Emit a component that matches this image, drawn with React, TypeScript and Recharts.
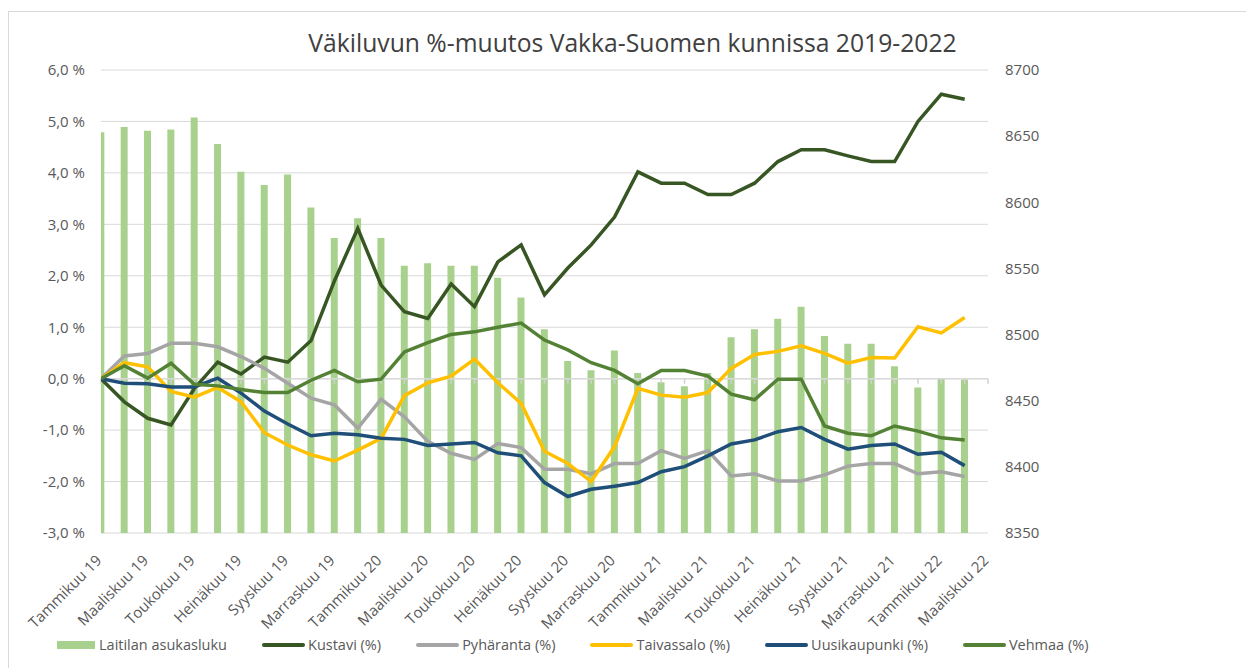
import React from 'react';
import { ComposedChart, Bar, Line, XAxis, YAxis, CartesianGrid, ReferenceLine } from 'recharts';

const months = [
  'Tammikuu 19', 'Helmikuu 19', 'Maaliskuu 19', 'Huhtikuu 19', 'Toukokuu 19', 'Kesäkuu 19',
  'Heinäkuu 19', 'Elokuu 19', 'Syyskuu 19', 'Lokakuu 19', 'Marraskuu 19', 'Joulukuu 19',
  'Tammikuu 20', 'Helmikuu 20', 'Maaliskuu 20', 'Huhtikuu 20', 'Toukokuu 20', 'Kesäkuu 20',
  'Heinäkuu 20', 'Elokuu 20', 'Syyskuu 20', 'Lokakuu 20', 'Marraskuu 20', 'Joulukuu 20',
  'Tammikuu 21', 'Helmikuu 21', 'Maaliskuu 21', 'Huhtikuu 21', 'Toukokuu 21', 'Kesäkuu 21',
  'Heinäkuu 21', 'Elokuu 21', 'Syyskuu 21', 'Lokakuu 21', 'Marraskuu 21', 'Joulukuu 21',
  'Tammikuu 22', 'Helmikuu 22', 'Maaliskuu 22',
];

const xTicks = [0, 2, 4, 6, 8, 10, 12, 14, 16, 18, 20, 22, 24, 26, 28, 30, 32, 34, 36, 38];
const leftTicks = [-3, -2, -1, 0, 1, 2, 3, 4, 5, 6];
const rightTicks = [8350, 8400, 8450, 8500, 8550, 8600, 8650, 8700];

const laitila = [
  8653, 8657, 8654, 8655, 8664, 8644, 8623, 8613, 8621, 8596, 8573, 8588,
  8573, 8552, 8554, 8552, 8552, 8543, 8528, 8504, 8480, 8473, 8488, 8471,
  8464, 8461, 8471, 8498, 8504, 8512, 8521, 8499, 8493, 8493, 8476, 8460,
  8467, 8466,
];
const kustavi = [
  0, -0.45, -0.77, -0.9, -0.19, 0.32, 0.09, 0.42, 0.32, 0.74, 1.9, 2.92,
  1.82, 1.3, 1.17, 1.84, 1.4, 2.27, 2.6, 1.63, 2.15, 2.6, 3.14, 4.02,
  3.8, 3.8, 3.58, 3.58, 3.8, 4.22, 4.45, 4.45, 4.33, 4.22, 4.22, 5.0,
  5.53, 5.43,
];
const pyharanta = [
  0, 0.44, 0.49, 0.69, 0.69, 0.62, 0.43, 0.2, -0.09, -0.38, -0.51, -0.96,
  -0.4, -0.74, -1.22, -1.45, -1.57, -1.26, -1.34, -1.76, -1.76, -1.85, -1.65, -1.65,
  -1.4, -1.55, -1.4, -1.89, -1.85, -1.99, -1.99, -1.87, -1.7, -1.65, -1.65, -1.85,
  -1.81, -1.9,
];
const taivassalo = [
  0, 0.31, 0.23, -0.25, -0.36, -0.17, -0.45, -1.05, -1.29, -1.48, -1.6, -1.39,
  -1.16, -0.33, -0.08, 0.05, 0.38, -0.08, -0.48, -1.41, -1.65, -2.0, -1.32, -0.19,
  -0.32, -0.36, -0.27, 0.2, 0.47, 0.53, 0.64, 0.49, 0.3, 0.41, 0.4, 1.01,
  0.89, 1.19,
];
const uusikaupunki = [
  0, -0.09, -0.1, -0.16, -0.16, 0.01, -0.28, -0.63, -0.88, -1.11, -1.06, -1.09,
  -1.16, -1.18, -1.3, -1.27, -1.24, -1.44, -1.5, -2.02, -2.29, -2.15, -2.09, -2.02,
  -1.81, -1.71, -1.5, -1.27, -1.19, -1.03, -0.95, -1.18, -1.37, -1.3, -1.27, -1.47,
  -1.43, -1.69,
];
const vehmaa = [
  0, 0.25, 0.01, 0.3, -0.11, -0.14, -0.21, -0.27, -0.27, -0.03, 0.16, -0.06,
  -0.01, 0.52, 0.7, 0.86, 0.91, 1.0, 1.08, 0.75, 0.56, 0.31, 0.16, -0.1,
  0.16, 0.16, 0.05, -0.3, -0.41, -0.01, -0.01, -0.92, -1.06, -1.11, -0.92, -1.02,
  -1.15, -1.19,
];

const data = laitila.map((v, i) => ({
  i,
  laitila: v,
  kustavi: kustavi[i],
  pyharanta: pyharanta[i],
  taivassalo: taivassalo[i],
  uusikaupunki: uusikaupunki[i],
  vehmaa: vehmaa[i],
}));

const series = [
  { key: 'kustavi', name: 'Kustavi (%)', color: '#375623' },
  { key: 'pyharanta', name: 'Pyhäranta (%)', color: '#A5A5A5' },
  { key: 'taivassalo', name: 'Taivassalo (%)', color: '#FFC000' },
  { key: 'uusikaupunki', name: 'Uusikaupunki (%)', color: '#1F4E79' },
  { key: 'vehmaa', name: 'Vehmaa (%)', color: '#548235' },
];

const FONT = '"Open Sans", sans-serif';
const fmtPct = (v: number) => `${v.toFixed(1).replace('.', ',')} %`;

const MonthTick = (props: any) => {
  const { x, y, payload } = props;
  const ax = x - 6;
  return (
    <text
      x={ax}
      y={y}
      dy="0.71em"
      textAnchor="end"
      transform={`rotate(-45, ${ax}, ${y})`}
      fontSize={15}
      fill="#595959"
      fontFamily={FONT}
    >
      {months[payload.value]}
    </text>
  );
};

export default function App() {
  return (
    <div style={{ position: 'absolute', left: 0, top: 0, width: 1246, height: 668, overflow: 'hidden', background: '#fff', fontFamily: FONT }}>
      <div style={{ position: 'absolute', left: 8, top: 11, width: 1238, height: 657, borderLeft: '1px solid #D9D9D9', borderTop: '1px solid #D9D9D9', boxSizing: 'border-box' }} />
      <div style={{ position: 'absolute', left: 0, top: 30, width: 1265, textAlign: 'center', fontSize: 24.7, lineHeight: '25px', color: '#404040', whiteSpace: 'nowrap' }}>
        Väkiluvun %-muutos Vakka-Suomen kunnissa 2019-2022
      </div>
      <div style={{ position: 'absolute', left: 0, top: 0 }}>
        <ComposedChart width={1246} height={668} data={data} margin={{ top: 70, right: 0, bottom: 0, left: 0 }}>
          <CartesianGrid yAxisId="left" vertical={false} stroke="#D9D9D9" strokeWidth={1} />
          <XAxis
            dataKey="i"
            type="number"
            domain={[0, 38]}
            allowDataOverflow
            ticks={xTicks}
            interval={0}
            axisLine={false}
            tickLine={false}
            tickSize={0}
            tickMargin={21}
            height={135}
            tick={<MonthTick />}
          />
          <YAxis
            yAxisId="left"
            orientation="left"
            domain={[-3, 6]}
            ticks={leftTicks}
            interval={0}
            tickFormatter={fmtPct}
            axisLine={false}
            tickLine={false}
            tickSize={0}
            tickMargin={16}
            width={101}
            tick={{ fontSize: 15, fill: '#595959', fontFamily: FONT }}
          />
          <YAxis
            yAxisId="right"
            orientation="right"
            domain={[8350, 8700]}
            ticks={rightTicks}
            interval={0}
            axisLine={false}
            tickLine={false}
            tickSize={0}
            tickMargin={17}
            width={258}
            tick={{ fontSize: 15, fill: '#595959', fontFamily: FONT }}
          />
          <Bar yAxisId="right" dataKey="laitila" fill="#A9D18E" barSize={7} isAnimationActive={false} />
          <ReferenceLine yAxisId="left" y={0} stroke="#D9D9D9" strokeWidth={1.5} />
          {months.map((m, i) => (
            <ReferenceLine
              key={m}
              yAxisId="left"
              segment={[{ x: i, y: 0 }, { x: i, y: -0.1 }]}
              stroke="#D0D0D0"
              strokeWidth={1.5}
            />
          ))}
          {series.map((s) => (
            <Line
              key={s.key}
              yAxisId="left"
              type="linear"
              dataKey={s.key}
              stroke={s.color}
              strokeWidth={3.5}
              dot={false}
              activeDot={false}
              isAnimationActive={false}
            />
          ))}
        </ComposedChart>
      </div>
      <div style={{ position: 'absolute', left: 57, top: 634, display: 'flex', alignItems: 'center', gap: 35, fontSize: 14.5, color: '#595959', whiteSpace: 'nowrap', lineHeight: '22px' }}>
        <div style={{ display: 'flex', alignItems: 'center' }}>
          <span style={{ display: 'inline-block', width: 38, height: 8, background: '#A9D18E', marginRight: 4 }} />
          <span>Laitilan asukasluku</span>
        </div>
        {series.map((s) => (
          <div key={s.key} style={{ display: 'flex', alignItems: 'center' }}>
            <span style={{ display: 'inline-block', width: 43, height: 4, borderRadius: 2, background: s.color, marginRight: 3 }} />
            <span>{s.name}</span>
          </div>
        ))}
      </div>
    </div>
  );
}
